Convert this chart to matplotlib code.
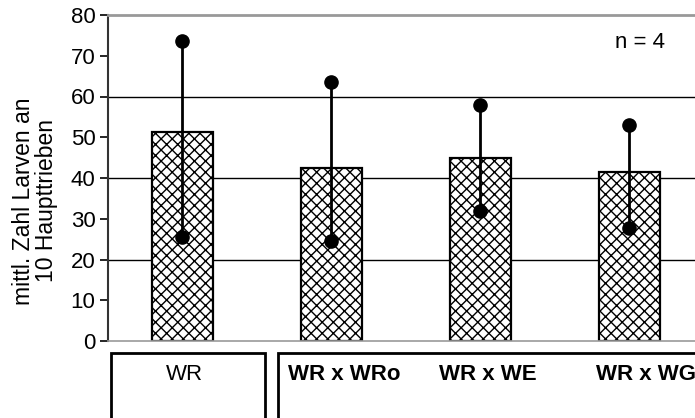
import numpy as np
import matplotlib
matplotlib.use("Agg")
import matplotlib.pyplot as plt
from matplotlib.patches import Rectangle

plt.rcParams['font.family'] = ['Liberation Sans', 'DejaVu Sans']
plt.rcParams['hatch.linewidth'] = 1.0
plt.rcParams['hatch.color'] = '#222222'

# data
groups = ["WR", "WR x WRo", "WR x WE", "WR x WG"]
means = [51.2, 42.5, 45.0, 41.4]
maxima = [73.5, 63.5, 58.0, 53.0]
minima = [25.5, 24.5, 32.0, 27.8]
y_ticks = [0, 10, 20, 30, 40, 50, 60, 70, 80]
grid_vals = [20, 40, 60]

W, H = 695, 418
fig = plt.figure(figsize=(W / 100, H / 100), dpi=100)
ax = fig.add_axes([108 / W, 1 - 341 / H, 1 - 108 / W, 326 / H])

x = np.arange(len(groups))

for g in grid_vals:
    ax.axhline(g, color='black', lw=1.0, zorder=0)

ax.bar(x, means, width=0.41, color='white', edgecolor='black',
       linewidth=1.6, hatch='xxx', zorder=2)

for xi, lo, hi in zip(x, minima, maxima):
    ax.plot([xi, xi], [lo, hi], color='black', lw=2, zorder=3)
ax.plot(x, maxima, 'o', color='black', ms=9.5, zorder=4)
ax.plot(x, minima, 'o', color='black', ms=9.5, zorder=4)

ax.set_ylim(0, 80)
ax.set_xlim(-0.5, 3.44)
ax.set_yticks(y_ticks)
ax.set_xticks([])
ax.tick_params(axis='y', direction='out', length=6, width=1.2, labelsize=16, pad=3)

ax.spines['right'].set_visible(False)
ax.spines['left'].set_color('#333333')
ax.spines['left'].set_linewidth(1.5)
ax.spines['top'].set_color('#999999')
ax.spines['top'].set_linewidth(2)
ax.spines['bottom'].set_color('#999999')
ax.spines['bottom'].set_linewidth(1.2)

fig.text(35 / W, 1 - 201 / H, "mittl. Zahl Larven an\n10 Haupttrieben",
         fontsize=16.5, rotation=90, ha='center', va='center', linespacing=0.95)

fig.text(640 / W, 1 - 42 / H, "n = 4", fontsize=16, ha='center', va='center')

# category boxes below the plot
label_x = [184, 344, 488, 646]
for i, name in enumerate(groups):
    fig.text(label_x[i] / W, 1 - 375 / H, name, ha='center', va='center',
             fontsize=16, fontweight='normal' if i == 0 else 'bold')

fig.add_artist(Rectangle((111 / W, -0.1), (265 - 111) / W, 0.1 + (1 - 353 / H),
                         transform=fig.transFigure, fill=False,
                         edgecolor='black', lw=2, clip_on=False))
fig.add_artist(Rectangle((278 / W, -0.1), 0.9, 0.1 + (1 - 353 / H),
                         transform=fig.transFigure, fill=False,
                         edgecolor='black', lw=2, clip_on=False))

fig.savefig("out.png", dpi=100)
